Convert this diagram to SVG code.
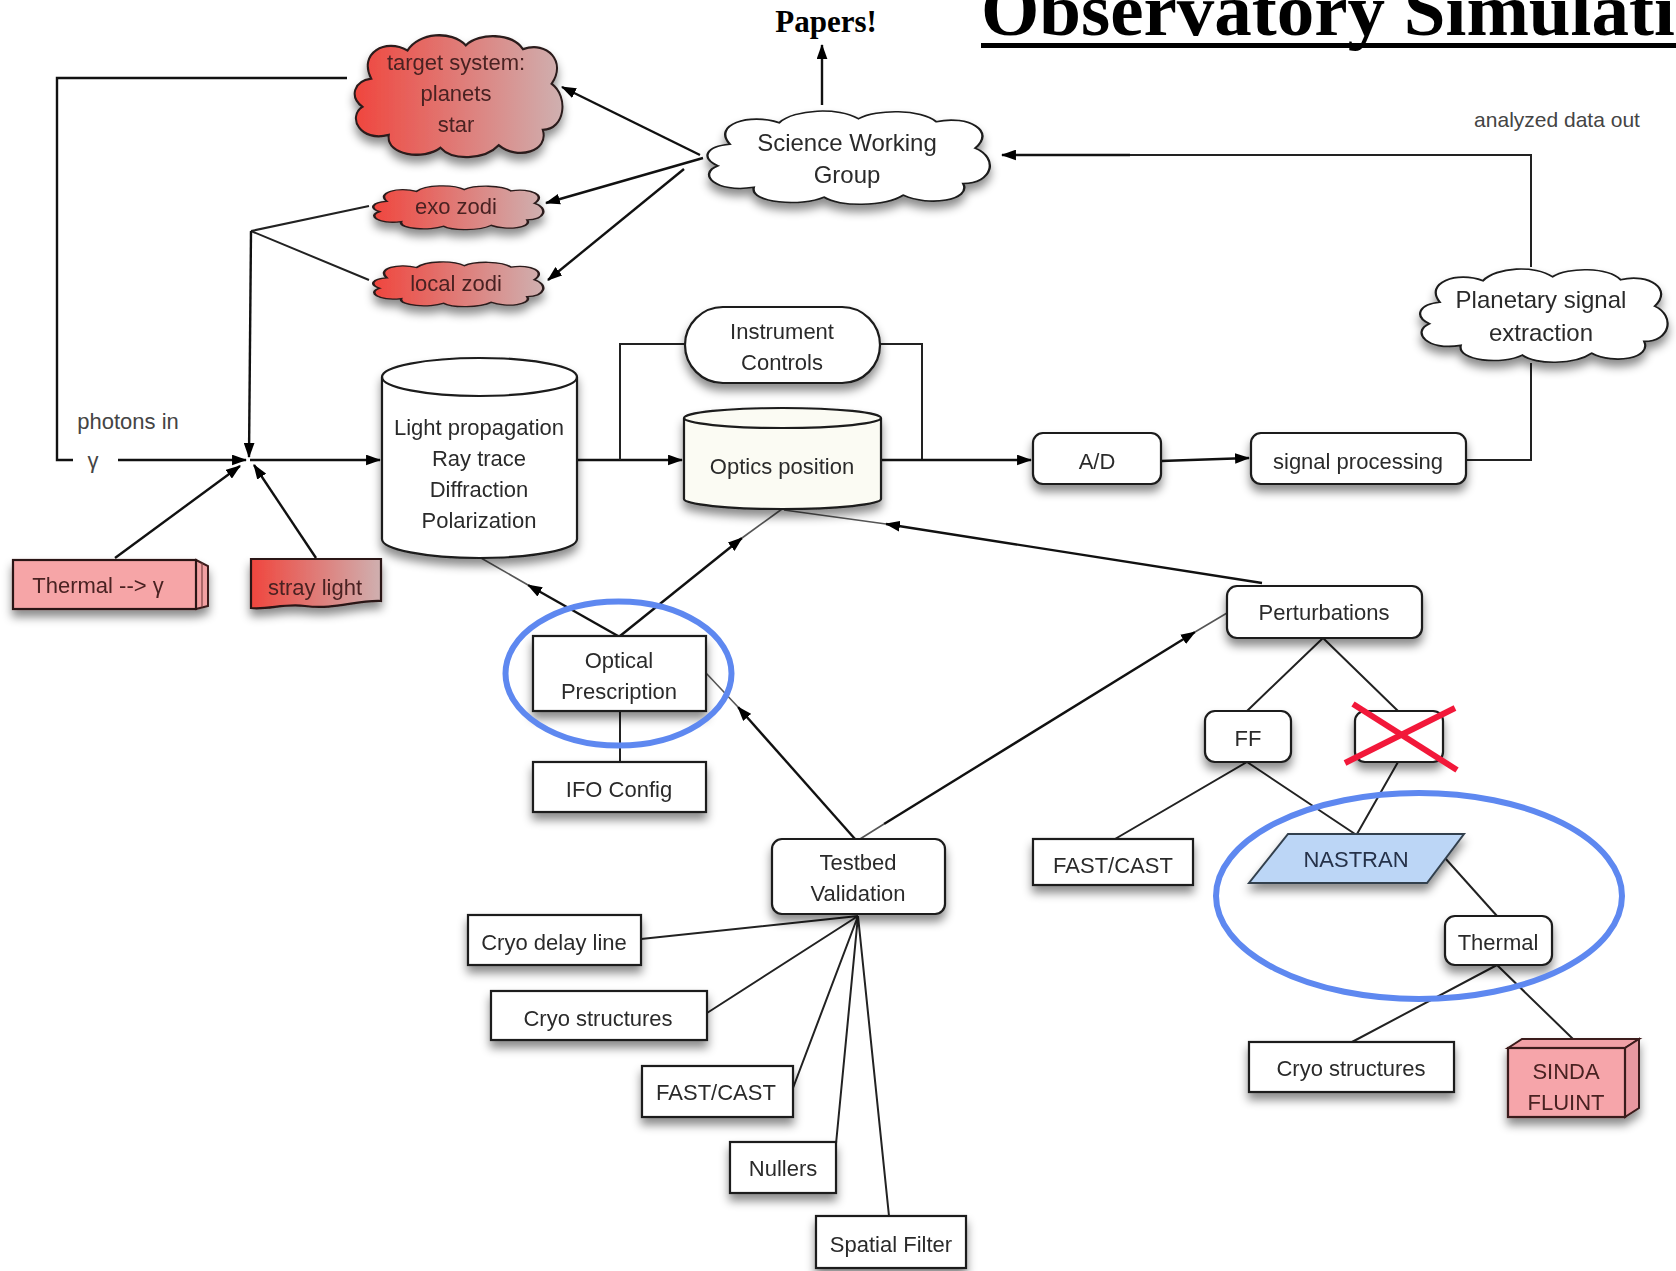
<svg xmlns="http://www.w3.org/2000/svg" width="1676" height="1271" viewBox="0 0 1676 1271">
<defs>
<style>
.t{font-family:"Liberation Sans",Arial,sans-serif;font-size:22px;fill:#2b2b2b;text-anchor:middle}
.tb{font-size:24px}
.tr{fill:#4a2222}
.n{fill:#fff;stroke:#1a1a1a;stroke-width:2.2}
.cl{stroke:#2a1a1a;stroke-width:2}
.c{fill:none;stroke:#111;stroke-width:2.4}
.ct{fill:none;stroke:#222;stroke-width:2}
.cth{fill:none;stroke:#555;stroke-width:1.6}
.a{marker-end:url(#arr)}
.ring{fill:none;stroke:#5e88f0;stroke-width:6}
.x{stroke:#f2183a;stroke-width:6;stroke-linecap:butt}
</style>
<marker id="arr" viewBox="0 0 14 10" refX="13" refY="5" markerWidth="15" markerHeight="11" markerUnits="userSpaceOnUse" orient="auto">
<path d="M0,0 L14,5 L0,10 Z" fill="#000"/>
</marker>
<linearGradient id="red" x1="0" y1="0" x2="1" y2="0">
<stop offset="0" stop-color="#f0463e"/>
<stop offset="1" stop-color="#cfb0b0"/>
</linearGradient>
<filter id="sh" x="-20%" y="-20%" width="140%" height="160%">
<feDropShadow dx="0" dy="7" stdDeviation="5" flood-color="#000" flood-opacity="0.45"/>
</filter>
<path id="cloud" d="M22,38 C10,18 35,6 55,16 C65,2 95,0 108,12 C120,2 150,2 160,15 C182,8 200,25 186,42 C202,52 198,78 178,78 C184,95 155,102 138,90 C125,102 95,102 85,92 C70,102 35,98 38,82 C12,88 0,68 14,60 C2,52 6,40 22,38 Z"/>
</defs>
<rect width="1676" height="1271" fill="#fff"/>

<g id="title">
<text x="981" y="35" font-family="'Liberation Serif','Times New Roman',serif" font-weight="bold" font-size="75" fill="#000">Observatory Simulation</text>
<rect x="981" y="43" width="700" height="5" fill="#000"/>
</g>
<g id="papers"><text x="826" y="32" font-family="'Liberation Serif','Times New Roman',serif" font-weight="bold" font-size="31" fill="#000" text-anchor="middle">Papers!</text></g>
<g id="analyzed"><text class="t" x="1557" y="127" font-size="21" style="font-size:21px;fill:#444">analyzed data out</text></g>
<g id="photons"><text class="t" x="128" y="429" style="fill:#444">photons in</text><text class="t" x="93" y="468" style="fill:#444">γ</text></g>

<g id="connectors">
<path class="c" d="M347,78 H57 V460 H73"/>
<path class="c a" d="M118,460 H246"/>
<path class="c a" d="M250,460 H380"/>
<path class="ct" d="M369,206 L251,231 M369,280 L251,231"/>
<path class="c a" d="M251,231 L249,457"/>
<path class="c a" d="M115,558 L240,466"/>
<path class="c a" d="M316,558 L254,465"/>
<path class="c a" d="M577,460 H682"/>
<path class="ct" d="M620,460 V344 H685"/>
<path class="ct" d="M880,344 H922 V460"/>
<path class="c a" d="M881,460 H1031"/>
<path class="c a" d="M1161,461 L1249,458"/>
<path class="ct" d="M1466,460 H1531 V363"/>
<path class="ct" d="M1531,267 V155 H1060"/>
<path class="c a" d="M1130,155 H1002"/>
<path class="c a" d="M822,105 V45"/>
<path class="c a" d="M700,155 L562,87"/>
<path class="c a" d="M703,158 L546,203"/>
<path class="c a" d="M684,169 L548,280"/>
<path class="c a" d="M618,636 L528,585"/>
<path class="cth" d="M528,585 L481,558"/>
<path class="c a" d="M620,636 L742,538"/>
<path class="cth" d="M742,538 L782,509"/>
<path class="c a" d="M855,839 L738,707"/>
<path class="cth" d="M738,707 L706,673"/>
<path class="c a" d="M884,824 L1195,632"/>
<path class="cth" d="M860,839 L884,824 M1195,632 L1227,613"/>
<path class="c a" d="M1262,583 L886,524"/>
<path class="cth" d="M886,524 L784,510"/>
<path class="ct" d="M1323,638 L1247,711 M1323,638 L1398,711"/>
<path class="ct" d="M1247,762 L1115,839 M1247,762 L1355,834 M1398,762 L1357,834"/>
<path class="ct" d="M1445,858 L1497,916"/>
<path class="ct" d="M1497,965 L1352,1042 M1497,965 L1573,1039"/>
<path class="ct" d="M858,916 L641,939 M858,916 L707,1013 M858,916 L793,1088 M858,916 L836,1144 M858,916 L889,1216"/>
<path class="ct" d="M620,711 V762"/>
</g>

<g id="target-system" filter="url(#sh)">
<use href="#cloud" class="cl" fill="url(#red)" transform="translate(347,30) scale(1.1,1.28)" vector-effect="non-scaling-stroke" style="stroke-width:1.8"/>
<text class="t tr" x="456" y="70">target system:</text>
<text class="t tr" x="456" y="101">planets</text>
<text class="t tr" x="456" y="132">star</text>
</g>
<g id="exo-zodi" filter="url(#sh)">
<use href="#cloud" class="cl" fill="url(#red)" transform="translate(367,184) scale(0.9,0.46)" style="stroke-width:2.8"/>
<text class="t tr" x="456" y="214">exo zodi</text>
</g>
<g id="local-zodi" filter="url(#sh)">
<use href="#cloud" class="cl" fill="url(#red)" transform="translate(367,260) scale(0.9,0.47)" style="stroke-width:2.8"/>
<text class="t tr" x="456" y="291">local zodi</text>
</g>
<g id="science-working-group" filter="url(#sh)">
<use href="#cloud" fill="#fff" stroke="#1a1a1a" transform="translate(697,107) scale(1.495,0.98)" style="stroke-width:1.6"/>
<text class="t tb" x="847" y="151">Science Working</text>
<text class="t tb" x="847" y="183">Group</text>
</g>
<g id="planetary-signal-extraction" filter="url(#sh)">
<use href="#cloud" fill="#fff" stroke="#1a1a1a" transform="translate(1411,265) scale(1.31,0.98)" style="stroke-width:1.7"/>
<text class="t tb" x="1541" y="308">Planetary signal</text>
<text class="t tb" x="1541" y="341">extraction</text>
</g>

<g id="light-propagation" filter="url(#sh)">
<path class="n" d="M382,377 A97.5,19 0 0 1 577,377 V539 A97.5,19 0 0 1 382,539 Z"/>
<path class="n" style="fill:none" d="M382,377 A97.5,19 0 0 0 577,377"/>
<text class="t" x="479" y="435">Light propagation</text>
<text class="t" x="479" y="466">Ray trace</text>
<text class="t" x="479" y="497">Diffraction</text>
<text class="t" x="479" y="528">Polarization</text>
</g>
<g id="instrument-controls" filter="url(#sh)">
<rect class="n" x="685" y="307" width="195" height="76" rx="38"/>
<text class="t" x="782" y="339">Instrument</text>
<text class="t" x="782" y="370">Controls</text>
</g>
<g id="optics-position" filter="url(#sh)">
<path class="n" style="fill:#fbfbf3" d="M684,418 A98.5,10 0 0 1 881,418 V499 A98.5,10 0 0 1 684,499 Z"/>
<path class="n" style="fill:none" d="M684,418 A98.5,10 0 0 0 881,418"/>
<text class="t" x="782" y="474">Optics position</text>
</g>
<g id="ad" filter="url(#sh)">
<rect class="n" x="1033" y="433" width="128" height="51" rx="10"/>
<text class="t" x="1097" y="469">A/D</text>
</g>
<g id="signal-processing" filter="url(#sh)">
<rect class="n" x="1251" y="433" width="215" height="51" rx="10"/>
<text class="t" x="1358" y="469">signal processing</text>
</g>
<g id="thermal-gamma" filter="url(#sh)">
<polygon points="196,560 208,566 208,606 196,609" fill="#f2a0a2" stroke="#3a1a1a" stroke-width="2"/>
<line x1="202" y1="563" x2="202" y2="607" stroke="#7a4040" stroke-width="1.2"/>
<rect x="13" y="560" width="183" height="49" fill="#f6a5a7" stroke="#2a1515" stroke-width="2.2"/>
<text class="t tr" x="98" y="593">Thermal --&gt; γ</text>
</g>
<g id="stray-light" filter="url(#sh)">
<path d="M251,559 H381 V601 C355,600 335,610 305,606 C285,603 268,610 251,608 Z" fill="url(#red)" stroke="#2a1515" stroke-width="2.2"/>
<text class="t tr" x="315" y="595">stray light</text>
</g>
<g id="optical-prescription" filter="url(#sh)">
<rect class="n" x="533" y="636" width="173" height="75"/>
<text class="t" x="619" y="668">Optical</text>
<text class="t" x="619" y="699">Prescription</text>
</g>
<g id="ifo-config" filter="url(#sh)">
<rect class="n" x="533" y="762" width="173" height="50"/>
<text class="t" x="619" y="797">IFO Config</text>
</g>
<g id="testbed-validation" filter="url(#sh)">
<rect class="n" x="772" y="839" width="173" height="75" rx="10"/>
<text class="t" x="858" y="870">Testbed</text>
<text class="t" x="858" y="901">Validation</text>
</g>
<g id="perturbations" filter="url(#sh)">
<rect class="n" x="1227" y="586" width="195" height="52" rx="10"/>
<text class="t" x="1324" y="620">Perturbations</text>
</g>
<g id="ff" filter="url(#sh)">
<rect class="n" x="1205" y="711" width="86" height="51" rx="10"/>
<text class="t" x="1248" y="746">FF</text>
</g>
<g id="sc" filter="url(#sh)">
<rect class="n" x="1355" y="711" width="88" height="51" rx="10"/>
</g>
<g id="fastcast-right" filter="url(#sh)">
<rect class="n" x="1033" y="839" width="160" height="46"/>
<text class="t" x="1113" y="873">FAST/CAST</text>
</g>
<g id="nastran" filter="url(#sh)">
<polygon points="1288,834 1464,834 1427,883 1249,883" fill="#bcd6f6" stroke="#33404d" stroke-width="2"/>
<text class="t" x="1356" y="867" style="fill:#25324a">NASTRAN</text>
</g>
<g id="thermal" filter="url(#sh)">
<rect class="n" x="1445" y="916" width="107" height="49" rx="10"/>
<text class="t" x="1498" y="950">Thermal</text>
</g>
<g id="cryo-structures-right" filter="url(#sh)">
<rect class="n" x="1249" y="1042" width="205" height="50"/>
<text class="t" x="1351" y="1076">Cryo structures</text>
</g>
<g id="sinda-fluint" filter="url(#sh)">
<polygon points="1508,1048 1522,1039 1639,1039 1625,1048" fill="#f0a0a6" stroke="#3a1a1a" stroke-width="2"/>
<polygon points="1625,1048 1639,1039 1639,1108 1625,1117" fill="#e898a0" stroke="#3a1a1a" stroke-width="2"/>
<rect x="1508" y="1048" width="117" height="69" fill="#f6a5aa" stroke="#3a1a1a" stroke-width="2.2"/>
<text class="t tr" x="1566" y="1079">SINDA</text>
<text class="t tr" x="1566" y="1110">FLUINT</text>
</g>
<g id="cryo-delay-line" filter="url(#sh)">
<rect class="n" x="468" y="915" width="173" height="50"/>
<text class="t" x="554" y="950">Cryo delay line</text>
</g>
<g id="cryo-structures-left" filter="url(#sh)">
<rect class="n" x="491" y="991" width="216" height="49"/>
<text class="t" x="598" y="1026">Cryo structures</text>
</g>
<g id="fastcast-left" filter="url(#sh)">
<rect class="n" x="642" y="1066" width="151" height="51"/>
<text class="t" x="716" y="1100">FAST/CAST</text>
</g>
<g id="nullers" filter="url(#sh)">
<rect class="n" x="730" y="1142" width="106" height="51"/>
<text class="t" x="783" y="1176">Nullers</text>
</g>
<g id="spatial-filter" filter="url(#sh)">
<rect class="n" x="816" y="1216" width="150" height="52"/>
<text class="t" x="891" y="1252">Spatial Filter</text>
</g>

<g id="annotations">
<ellipse class="ring" cx="618.5" cy="673.5" rx="113" ry="72"/>
<ellipse class="ring" cx="1419" cy="896" rx="203" ry="103"/>
<line class="x" x1="1353" y1="704" x2="1457" y2="770"/>
<line class="x" x1="1345" y1="763" x2="1455" y2="708"/>
</g>
</svg>
